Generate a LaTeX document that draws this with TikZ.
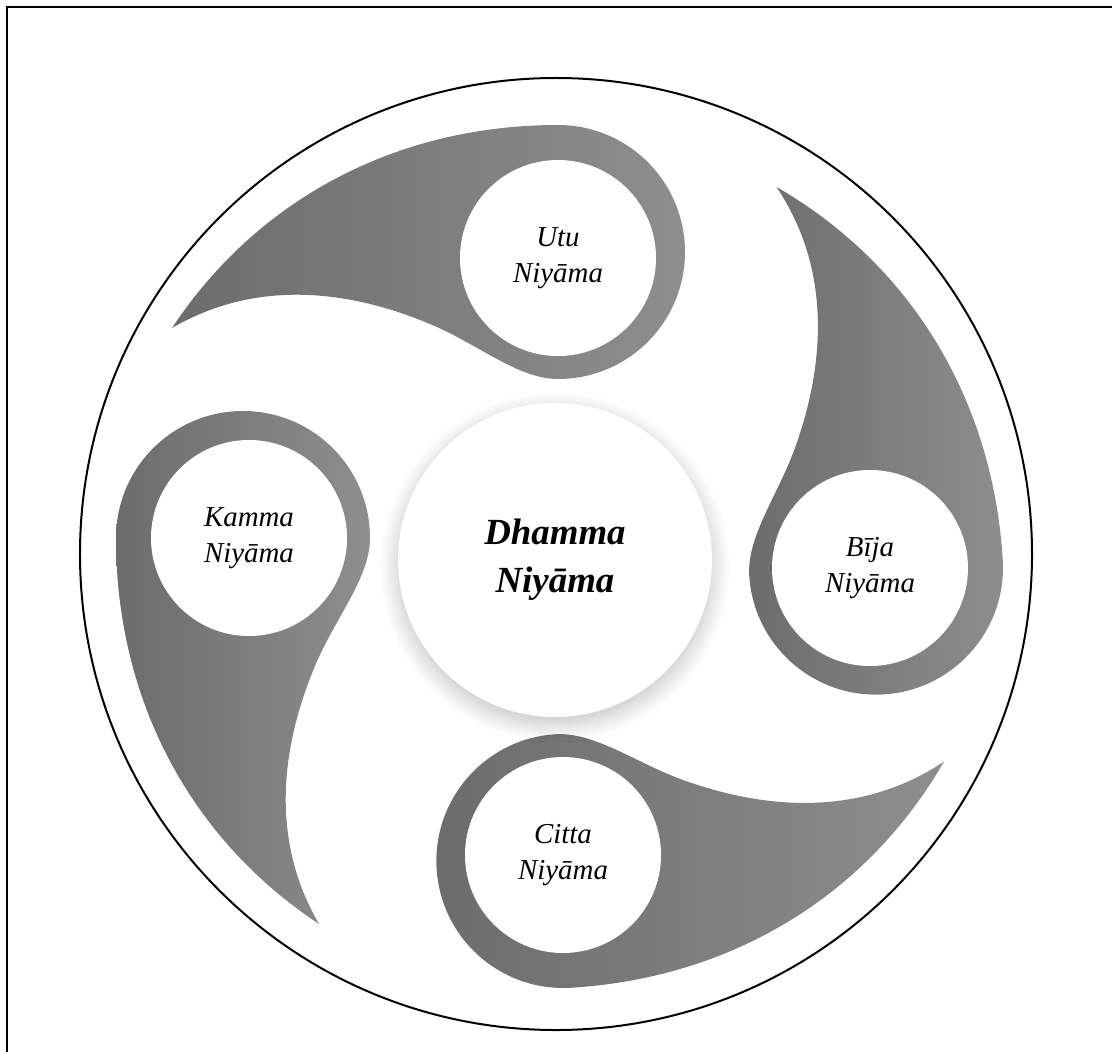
\documentclass[tikz,border=0pt]{standalone}
\usepackage{fontspec}
\setmainfont{Liberation Serif}
\usetikzlibrary{shadows.blur}
\definecolor{commadark}{HTML}{6C6C6C}
\definecolor{commalight}{HTML}{8E8E8E}
% one comma-shaped swirl: ring around a disc with a tapering tail
\newcommand\swirl[2]{%
  \begin{scope}[shift={#1}, rotate=#2]
    \shade[left color=commadark, right color=commalight]
      (-386,70) .. controls (-300,-60) and (-160,-133) .. (0,-133)
      arc[start angle=-90, end angle=90, radius=127]
      .. controls (-40,121) and (-80,86) .. (-128,66)
      .. controls (-190,40) and (-290,14) .. cycle;
  \end{scope}}
\begin{document}
\begin{tikzpicture}[x=1bp, y=-1bp,
  lbl/.style={font=\fontsize{29}{36}\selectfont\itshape, align=center, text=black},
  disc/.style={circle, fill=white, minimum size=196bp, inner sep=0pt},
  hub/.style={circle, fill=white, minimum size=314bp, inner sep=0pt,
    blur shadow={shadow xshift=0bp, shadow yshift=-7bp, shadow blur radius=18bp,
      shadow blur steps=30, shadow opacity=25},
    font=\fontsize{37}{48}\selectfont\bfseries\itshape, align=center}]
\useasboundingbox (0,0) rectangle (1112,1052);
% frame edges
\draw[line width=2.5bp] (7,1052) -- (7,7) -- (1112,7);
% enclosing circle
\node[circle, draw, line width=2bp, minimum size=952bp, inner sep=0pt] (rim) at (556,554) {};
% swirls
\swirl{(558,258)}{0}
\swirl{(249,538)}{90}
\swirl{(563,855)}{183.5}
\swirl{(870,568)}{273.5}
% discs with labels
\node[disc, lbl] (utu) at (558,258) {Utu\\Niyāma};
\node[disc, lbl] (kamma) at (249,538) {Kamma\\Niyāma};
\node[disc, lbl] (citta) at (563,855) {Citta\\Niyāma};
\node[disc, lbl] (bija) at (870,568) {Bīja\\Niyāma};
% central hub
\node[hub] (dhamma) at (555,560) {Dhamma\\Niyāma};
\end{tikzpicture}
\end{document}
